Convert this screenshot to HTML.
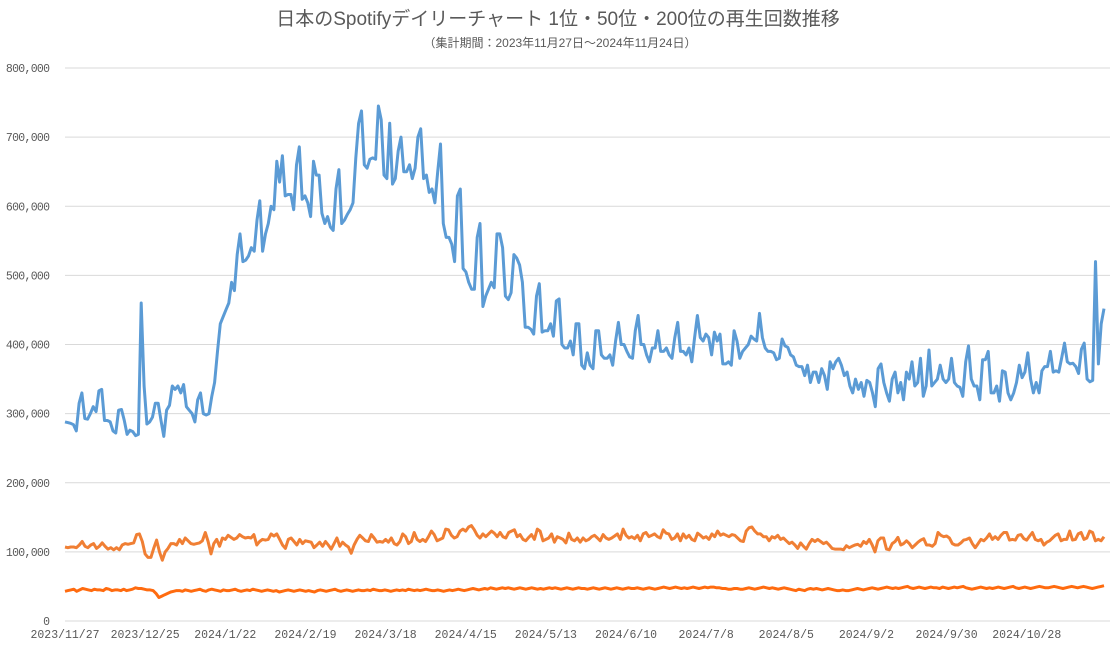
<!DOCTYPE html>
<html><head><meta charset="utf-8">
<style>
html,body{margin:0;padding:0;background:#fff;}
svg text{font-family:"Liberation Mono","Noto Sans CJK JP",monospace;fill:#595959;}
</style></head>
<body>
<svg id="chart" width="1117" height="652" viewBox="0 0 1117 652" xmlns="http://www.w3.org/2000/svg">
<text x="558" y="25" text-anchor="middle" font-size="19" style="font-family:'Liberation Sans','Noto Sans CJK JP',sans-serif">日本のSpotifyデイリーチャート 1位・50位・200位の再生回数推移</text>
<text x="560" y="47" text-anchor="middle" font-size="12" style="font-family:'Liberation Sans','Noto Sans CJK JP',sans-serif">（集計期間：2023年11月27日～2024年11月24日）</text>
<g id="grid"></g><g id="ylab"></g><g id="xlab"></g><g id="series"></g>
</svg>
<script>
const yTicks=[0,100000,200000,300000,400000,500000,600000,700000,800000];
const yTickLabels=["0","100,000","200,000","300,000","400,000","500,000","600,000","700,000","800,000"];
const xTickIdx=[0,28,56,84,112,140,168,196,224,252,280,308,336];
const xTickLabels=["2023/11/27","2023/12/25","2024/1/22","2024/2/19","2024/3/18","2024/4/15","2024/5/13","2024/6/10","2024/7/8","2024/8/5","2024/9/2","2024/9/30","2024/10/28"];
const rank1=[288,287,286,284,275,315,330,293,292,300,310,303,333,335,290,290,288,275,272,305,306,290,270,276,274,268,270,460,340,285,288,295,315,315,290,267,305,312,340,335,340,330,342,310,305,300,288,320,330,300,298,300,325,345,390,430,440,450,460,490,478,530,560,520,522,528,540,535,580,608,535,560,575,600,595,665,635,673,615,617,617,595,660,686,610,615,605,585,665,645,645,590,575,585,570,565,625,653,575,580,588,595,605,670,720,738,660,655,668,670,668,745,725,645,640,720,632,640,680,700,650,650,660,640,655,700,712,640,645,620,625,605,650,690,575,555,555,545,520,615,625,510,505,490,480,480,555,575,455,470,480,490,482,560,560,540,470,465,475,530,525,515,490,425,425,422,415,470,488,418,420,420,430,412,463,466,400,395,395,405,385,430,430,370,365,388,370,365,420,420,385,380,380,385,370,405,432,400,400,390,382,380,420,442,400,400,385,375,395,395,420,390,390,395,385,380,410,432,390,390,385,395,375,410,442,410,405,415,410,385,418,405,415,372,372,375,370,420,405,380,390,395,400,412,408,405,445,410,395,390,390,388,378,380,408,398,396,385,382,370,368,368,355,370,345,360,360,345,365,355,335,375,365,375,380,370,355,360,340,330,350,335,345,325,348,345,330,310,365,372,345,330,318,350,360,330,345,320,360,350,375,340,345,380,325,340,392,340,345,350,370,350,345,350,380,345,340,338,325,375,398,350,340,340,320,378,378,390,330,330,340,318,362,360,330,320,330,345,370,352,360,388,350,330,345,330,362,368,368,390,360,362,360,380,402,375,372,373,368,358,393,402,350,346,348,520,372,430,452];
const rank50=[107,106,107,107,106,110,115,108,106,110,112,105,108,113,108,104,106,103,106,103,110,112,111,112,113,125,126,115,97,92,92,105,117,100,88,100,105,112,112,110,118,112,120,116,112,111,112,113,116,128,115,97,112,118,108,120,118,124,121,118,120,125,122,120,121,120,125,110,115,118,117,118,126,123,126,118,110,105,118,120,115,110,118,112,116,115,114,106,110,114,108,115,110,104,112,120,108,114,110,107,98,110,118,124,120,116,115,125,120,114,115,114,118,114,120,112,110,115,126,122,112,115,128,118,115,118,115,122,130,125,116,118,120,133,132,124,120,122,130,133,130,136,138,132,124,120,126,122,126,130,127,122,128,122,120,128,130,132,122,125,118,116,121,125,118,133,130,116,118,120,126,114,122,120,118,113,127,118,116,120,114,120,116,118,122,124,120,116,125,120,118,120,123,126,118,133,124,120,122,119,124,116,126,128,122,124,126,122,120,132,127,126,118,120,126,116,126,120,124,118,116,127,124,120,122,118,126,122,130,124,126,124,122,125,124,120,116,115,130,135,136,130,126,126,122,122,116,122,120,124,118,120,116,112,114,110,105,113,108,104,112,118,115,118,115,112,114,110,105,104,104,104,103,109,106,108,110,111,108,115,112,118,110,100,116,120,120,104,103,112,115,121,110,112,116,112,106,110,114,117,119,110,110,108,112,128,124,122,123,120,112,110,110,113,117,118,120,112,106,112,118,116,120,126,118,122,118,124,128,128,117,118,117,124,125,119,117,123,128,118,116,118,110,114,116,120,124,126,116,118,118,130,117,118,126,128,118,120,130,128,116,118,116,122];
const rank200=[43,44,45,46,43,45,47,46,45,44,46,45,45,44,47,46,44,45,45,44,46,44,45,46,48,47,47,46,45,45,44,40,34,36,38,40,42,43,44,44,43,45,44,43,44,45,46,44,43,45,46,45,44,43,45,44,44,45,46,44,43,44,45,44,46,45,44,43,44,45,44,43,44,42,43,44,45,44,43,44,45,44,43,44,43,42,44,45,44,43,44,45,46,44,43,44,45,44,43,44,45,44,44,45,44,46,45,44,44,45,44,43,44,45,44,45,44,46,45,44,45,44,45,46,45,44,44,45,44,43,44,45,44,45,46,45,44,45,46,47,46,45,46,47,46,48,47,46,47,48,47,48,47,46,47,48,47,46,47,48,47,46,47,46,47,48,47,48,47,46,47,48,47,46,47,48,47,47,46,47,48,47,46,47,48,47,46,47,48,47,46,47,48,47,47,48,47,46,47,48,47,46,47,48,49,48,47,48,49,48,47,48,47,48,49,48,47,48,49,48,49,49,48,48,47,47,46,46,47,47,46,46,47,48,47,46,47,48,49,48,47,48,47,46,47,48,47,46,45,44,46,45,44,46,47,46,47,46,45,46,47,46,45,44,44,45,44,44,45,46,47,46,45,46,47,48,47,46,47,48,49,48,47,48,47,48,49,50,48,47,48,49,48,47,48,49,48,48,47,49,48,47,48,49,48,49,50,48,47,46,47,48,49,48,47,48,47,48,49,48,47,48,49,50,48,47,48,49,48,47,48,49,50,49,48,48,49,50,49,48,47,48,49,50,49,48,49,50,49,48,47,48,49,50,51];
const svgNS="http://www.w3.org/2000/svg";
const X0=65,X1=1104,Y0=621,Y1=68,VMAX=800000;
function yS(v){return Y0-(v/VMAX)*(Y0-Y1);}
function xS(i,n){return X0+(X1-X0)*i/(n-1);}
const grid=document.getElementById('grid'),ylab=document.getElementById('ylab'),xlab=document.getElementById('xlab'),ser=document.getElementById('series');
yTicks.forEach((t,k)=>{
  const l=document.createElementNS(svgNS,'line');
  
  
  l.setAttribute('x1',X0);l.setAttribute('x2',X1+6);
  l.setAttribute('y1',yS(t));l.setAttribute('y2',yS(t));
  l.setAttribute('stroke','#d9d9d9');l.setAttribute('stroke-width','1');
  grid.appendChild(l);
  const tx=document.createElementNS(svgNS,'text');
  
  
  tx.setAttribute('x',50);tx.setAttribute('y',yS(t)+4);
  tx.setAttribute('text-anchor','end');tx.setAttribute('font-size','11.5');
  tx.setAttribute('textLength',yTickLabels[k].length*6.3);
  tx.textContent=yTickLabels[k];
  ylab.appendChild(tx);
});
xTickIdx.forEach((d,k)=>{
  const tx=document.createElementNS(svgNS,'text');
  
  
  tx.setAttribute('x',X0+(X1-X0)*d/363);tx.setAttribute('y',638);
  tx.setAttribute('text-anchor','middle');tx.setAttribute('font-size','11.5');
  tx.textContent=xTickLabels[k];
  xlab.appendChild(tx);
});
function draw(arr,color,name,w){
  const n=arr.length;
  const pts=arr.map((v,i)=>xS(i,n).toFixed(1)+','+yS(v*1000).toFixed(1)).join(' ');
  const p=document.createElementNS(svgNS,'polyline');
  
  
  p.setAttribute('points',pts);p.setAttribute('fill','none');
  p.setAttribute('stroke',color);p.setAttribute('stroke-width',w);
  p.setAttribute('stroke-linejoin','round');
  ser.appendChild(p);
}
draw(rank200,'#FF6B0F','series-rank-200',3);
draw(rank50,'#F07F34','series-rank-50',3);
draw(rank1,'#5B9BD5','series-rank-1',3);
</script>
</body></html>
